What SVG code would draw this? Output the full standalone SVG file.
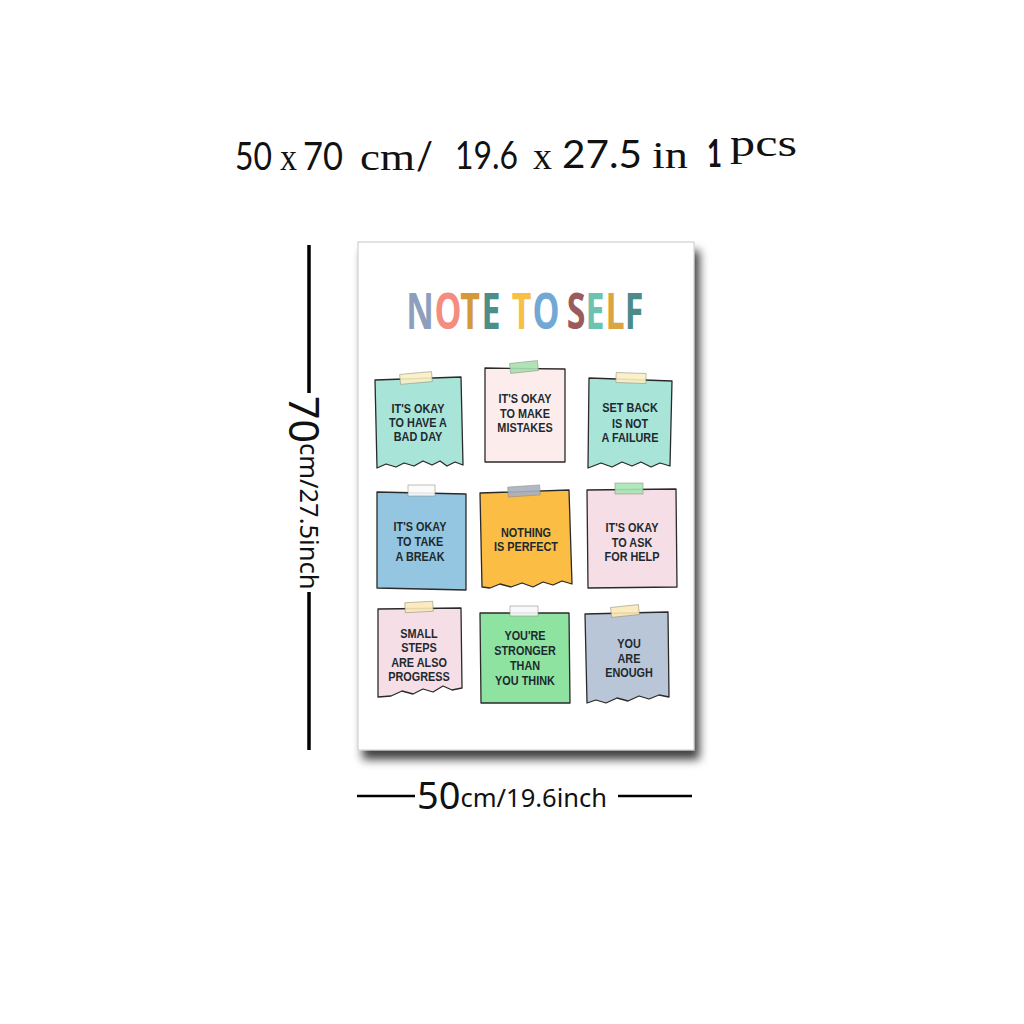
<svg xmlns="http://www.w3.org/2000/svg" width="1024" height="1024" viewBox="0 0 1024 1024">
<defs>
<filter id="shadow" x="-10%" y="-10%" width="130%" height="130%">
<feDropShadow dx="5" dy="9" stdDeviation="5" flood-color="#000" flood-opacity="0.75"/>
</filter>
<style>
.note{stroke:#2a2a2a;stroke-width:1.3;stroke-linejoin:round}
.tape{stroke:#8a8a7a;stroke-width:0.6;opacity:0.9}
.nt{font-family:"Liberation Sans",Arial,sans-serif;font-weight:700;font-size:12.5px;fill:#1e2a30;text-anchor:middle}
.dim{font-family:"Noto Sans","Open Sans",sans-serif;fill:#111}
.hs{font-family:Lato,"Liberation Sans",sans-serif;font-size:38px;fill:#111}
.hr{font-family:"Liberation Serif","Times New Roman",serif;font-size:38px;fill:#111}
.title{font-family:"Open Sans","Noto Sans",sans-serif;font-weight:700;font-size:50px;text-anchor:middle}
</style>
</defs>
<rect width="1024" height="1024" fill="#fff"/>

<g id="header">
<text class="hs" x="235" y="170" textLength="37" lengthAdjust="spacingAndGlyphs">50</text>
<text class="hr" x="280" y="170" font-size="34" textLength="17" lengthAdjust="spacingAndGlyphs">x</text>
<text class="hs" x="303" y="170" textLength="40" lengthAdjust="spacingAndGlyphs">70</text>
<text class="hr" x="360" y="170" font-size="40" textLength="55" lengthAdjust="spacingAndGlyphs">cm</text>
<text class="hs" x="416" y="170" textLength="17" lengthAdjust="spacingAndGlyphs">/</text>
<text class="hs" x="455" y="169" textLength="63" lengthAdjust="spacingAndGlyphs">19.6</text>
<text class="hr" x="533" y="169" font-size="34" textLength="19" lengthAdjust="spacingAndGlyphs">x</text>
<text class="hs" x="562" y="168" textLength="80" lengthAdjust="spacingAndGlyphs">27.5</text>
<text class="hr" x="652" y="168" font-size="40" textLength="36" lengthAdjust="spacingAndGlyphs">in</text>
<text class="hs" x="707" y="167" font-size="46" font-weight="700" textLength="15" lengthAdjust="spacingAndGlyphs">1</text>
<text class="hr" x="730" y="156" font-size="40" textLength="67" lengthAdjust="spacingAndGlyphs">pcs</text>
</g>

<g id="dim-height">
<line x1="309" y1="245" x2="309" y2="393" stroke="#000" stroke-width="3.5"/>
<line x1="309" y1="592" x2="309" y2="750" stroke="#000" stroke-width="3.5"/>
<text class="dim" transform="translate(289 396) rotate(90)"><tspan font-size="41">70</tspan><tspan font-size="25.5" dy="-11">cm/27.5inch</tspan></text>
</g>

<g id="dim-width">
<line x1="357" y1="796" x2="415" y2="796" stroke="#000" stroke-width="2.5"/>
<line x1="618" y1="796" x2="692" y2="796" stroke="#000" stroke-width="2.5"/>
<text class="dim" x="417" y="809"><tspan font-size="38">50</tspan><tspan font-size="25.5" dy="-2">cm/19.6inch</tspan></text>
</g>

<g id="poster">
<rect x="358" y="242" width="336" height="508" fill="#fff" stroke="#c8c8c8" stroke-width="1" filter="url(#shadow)"/>
<g transform="translate(408 329) scale(0.68 1)">
<text class="title"><tspan x="17.6" fill="#8e9fbd">N</tspan><tspan x="58.8" fill="#f48c7f">O</tspan><tspan x="91.2" fill="#d49a3a">T</tspan><tspan x="122.1" fill="#4d8d8a">E</tspan><tspan x="167" fill="#f6c146">T</tspan><tspan x="203" fill="#72a9d4">O</tspan><tspan x="247.1" fill="#9b5b5b">S</tspan><tspan x="275" fill="#6cc3b2">E</tspan><tspan x="304.4" fill="#d9a441">L</tspan><tspan x="332.4" fill="#4c8b8a">F</tspan></text>
</g>
</g>

<g id="note1">
<path class="note" fill="#a9e4d9" d="M375,380 L461,377 L463,465 L455,462 L447,466 L440,461 L432,465 L423,461 L414,466 L404,463 L396,467 L386,464 L377,468 Z"/>
<rect class="tape" x="400" y="373" width="32" height="10" fill="#fbf0c4" transform="rotate(-5 416 378)"/>
<g transform="translate(418 0) scale(0.87 1)"><text class="nt"><tspan x="0" y="413">IT'S OKAY</tspan><tspan x="0" y="427">TO HAVE A</tspan><tspan x="0" y="441">BAD DAY</tspan></text></g>
</g>

<g id="note2">
<path class="note" fill="#fcecec" d="M485,368 L565,369 L565,462 L485,462 Z"/>
<rect class="tape" x="510" y="362" width="28" height="10" fill="#a8e0b0" transform="rotate(-6 524 367)"/>
<g transform="translate(525 0) scale(0.87 1)"><text class="nt"><tspan x="0" y="403">IT'S OKAY</tspan><tspan x="0" y="418">TO MAKE</tspan><tspan x="0" y="432">MISTAKES</tspan></text></g>
</g>

<g id="note3">
<path class="note" fill="#a9e4d9" d="M589,378 L672,381 L670,466 L660,463 L651,467 L641,462 L632,466 L622,462 L612,467 L601,463 L588,468 Z"/>
<rect class="tape" x="616" y="373" width="30" height="10" fill="#fbf0c4" transform="rotate(2 631 378)"/>
<g transform="translate(630 0) scale(0.87 1)"><text class="nt"><tspan x="0" y="412">SET BACK</tspan><tspan x="0" y="428">IS NOT</tspan><tspan x="0" y="442">A FAILURE</tspan></text></g>
</g>

<g id="note4">
<path class="note" fill="#94c6e1" d="M377,492 L466,494 L466,590 L377,588 Z"/>
<rect class="tape" x="408" y="485" width="27" height="11" fill="#fbfbfb"/>
<g transform="translate(420 0) scale(0.87 1)"><text class="nt"><tspan x="0" y="531">IT'S OKAY</tspan><tspan x="0" y="546">TO TAKE</tspan><tspan x="0" y="561">A BREAK</tspan></text></g>
</g>

<g id="note5">
<path class="note" fill="#fbbd44" d="M480,493 L569,490 L572,584 L562,581 L553,585 L543,582 L533,587 L522,583 L511,587 L500,584 L490,588 L482,587 Z"/>
<rect class="tape" x="508" y="486" width="32" height="10" fill="#a8b0c0" transform="rotate(-4 524 491)"/>
<g transform="translate(526 0) scale(0.87 1)"><text class="nt"><tspan x="0" y="537">NOTHING</tspan><tspan x="0" y="551">IS PERFECT</tspan></text></g>
</g>

<g id="note6">
<path class="note" fill="#f5dee5" d="M587,490 L676,489 L677,587 L588,588 Z"/>
<rect class="tape" x="615" y="483" width="28" height="11" fill="#a8e6b4"/>
<g transform="translate(632 0) scale(0.87 1)"><text class="nt"><tspan x="0" y="532">IT'S OKAY</tspan><tspan x="0" y="547">TO ASK</tspan><tspan x="0" y="561">FOR HELP</tspan></text></g>
</g>

<g id="note7">
<path class="note" fill="#f5dee5" d="M378,609 L461,608 L462,688 L452,690 L443,686 L433,692 L423,689 L413,694 L402,691 L391,696 L378,697 Z"/>
<rect class="tape" x="405" y="602" width="28" height="10" fill="#fbe9b8" transform="rotate(-3 419 607)"/>
<g transform="translate(419 0) scale(0.87 1)"><text class="nt"><tspan x="0" y="638">SMALL</tspan><tspan x="0" y="652">STEPS</tspan><tspan x="0" y="667">ARE ALSO</tspan><tspan x="0" y="681">PROGRESS</tspan></text></g>
</g>

<g id="note8">
<path class="note" fill="#8ee3a1" d="M480,613 L569,613 L570,703 L481,703 Z"/>
<rect class="tape" x="510" y="606" width="28" height="10" fill="#f8f8fb"/>
<g transform="translate(525 0) scale(0.87 1)"><text class="nt"><tspan x="0" y="640">YOU'RE</tspan><tspan x="0" y="655">STRONGER</tspan><tspan x="0" y="670">THAN</tspan><tspan x="0" y="685">YOU THINK</tspan></text></g>
</g>

<g id="note9">
<path class="note" fill="#b9c6d8" d="M585,614 L668,612 L669,697 L659,695 L649,699 L639,696 L628,701 L617,698 L606,703 L596,700 L587,703 Z"/>
<rect class="tape" x="611" y="606" width="28" height="10" fill="#fbe9b8" transform="rotate(-6 625 611)"/>
<g transform="translate(629 0) scale(0.87 1)"><text class="nt"><tspan x="0" y="648">YOU</tspan><tspan x="0" y="663">ARE</tspan><tspan x="0" y="677">ENOUGH</tspan></text></g>
</g>

<g id="connectors"></g>
</svg>
